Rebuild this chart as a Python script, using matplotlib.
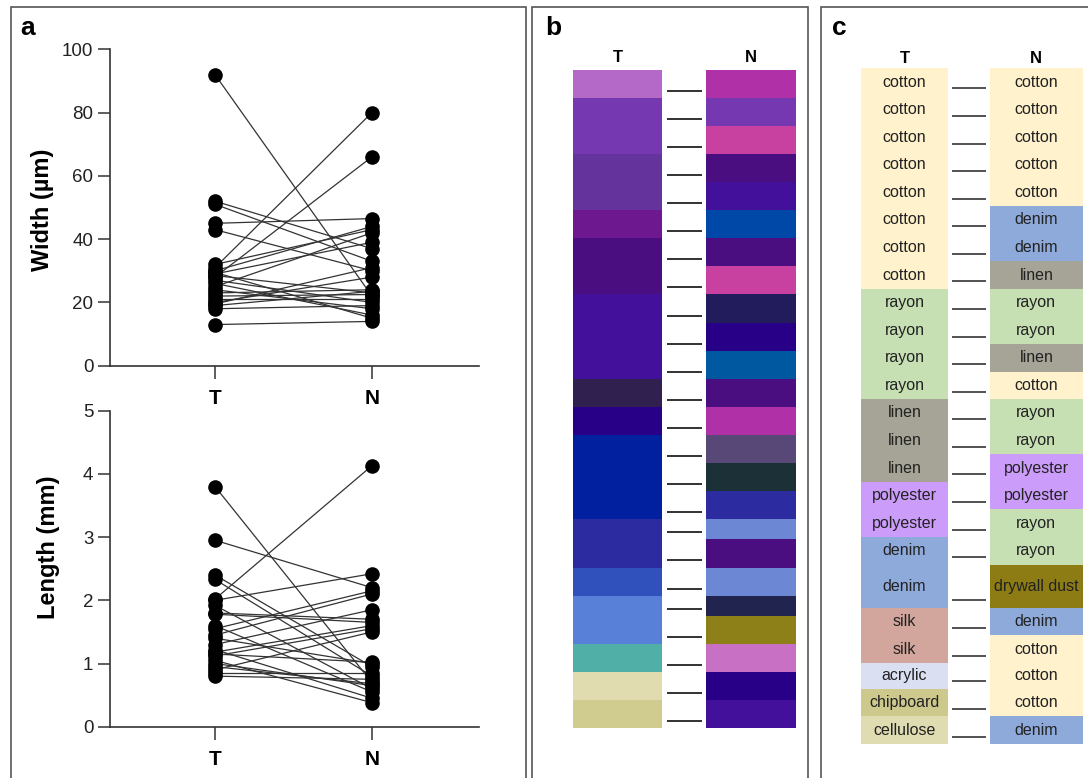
import numpy as np
import matplotlib
matplotlib.use("Agg")
import matplotlib.pyplot as plt
from matplotlib.patches import Rectangle

plt.rcParams['font.family'] = ['Liberation Sans', 'DejaVu Sans']

W, H = 1088, 778

# ---- panel a: paired fibre measurements (T vs N) ----
groups = ['T', 'N']
width_T = [92, 31, 28, 52, 51, 45, 43, 32, 30, 29, 28.5, 27, 26, 25, 24, 23, 22, 21, 20, 19.5, 19, 18, 13, 29.5]
width_N = [22, 80, 66, 37, 33, 46.5, 30, 43, 44, 39, 23, 20, 16, 42, 18, 24, 22.5, 21, 28, 31, 23.5, 19, 14, 15]
length_T = [3.8, 2.95, 2.02, 2.4, 2.33, 2.0, 1.92, 1.8, 1.78, 1.6, 1.55, 1.45, 1.4, 1.3, 1.22, 1.18, 1.12, 1.05, 1.0, 0.9, 0.85, 0.8, 1.15, 0.95]
length_N = [0.7, 2.2, 4.13, 0.95, 0.8, 2.42, 0.6, 1.7, 1.65, 0.55, 2.15, 2.1, 1.0, 1.85, 0.45, 1.6, 1.55, 0.38, 0.65, 1.5, 0.85, 0.75, 1.02, 0.68]

# ---- panel b: colour blocks ----
b_T_heights = [1, 2, 2, 1, 2, 3, 1, 1, 3, 1.73, 1, 1.73, 1, 1, 1]
b_T_colors = ['#b469c8', '#7638b0', '#64349c', '#6e1890', '#4a0e80', '#42109a', '#302050',
              '#280088', '#0020a0', '#2c2ca0', '#3050bc', '#5880d8', '#50b0a8', '#e0dcb0', '#d0cc90']
b_N_heights = [1] * 16 + [0.73, 1, 1, 0.73, 1, 1, 1, 1]
b_N_colors = ['#b030a8', '#7638b0', '#c840a0', '#4a0e80', '#42109a', '#0048a8', '#4a0e80', '#c840a0',
              '#221c5c', '#280088', '#0058a0', '#4a0e80', '#b030a8', '#584878', '#1c3038', '#2c2ca0',
              '#6c88d4', '#4a0e80', '#6c88d4', '#222450', '#8e8018', '#c870c4', '#280088', '#42109a']

# ---- panel c: material types ----
c_T = ['cotton'] * 8 + ['rayon'] * 4 + ['linen'] * 3 + ['polyester'] * 2 + ['denim'] * 2 + \
      ['silk'] * 2 + ['acrylic', 'chipboard', 'cellulose']
c_N = ['cotton'] * 5 + ['denim'] * 2 + ['linen', 'rayon', 'rayon', 'linen', 'cotton', 'rayon', 'rayon',
      'polyester', 'polyester', 'rayon', 'rayon', 'drywall dust', 'denim', 'cotton', 'cotton', 'cotton', 'denim']
c_row_heights = [1] * 18 + [1.57, 1, 1, 0.94, 1, 1]
material_colors = {
    'cotton': '#fff2cc', 'rayon': '#c6e0b4', 'linen': '#a6a496', 'polyester': '#cc9cfa',
    'denim': '#8eaadb', 'silk': '#d2a69c', 'acrylic': '#dae0f2', 'chipboard': '#cdc98c',
    'cellulose': '#dfdcb2', 'drywall dust': '#8d7c14',
}


def px_axes(fig, x0, y0, x1, y1):
    # axes placed by pixel box (y measured from top)
    return fig.add_axes([x0 / W, 1 - y1 / H, (x1 - x0) / W, (y1 - y0) / H])


def paired_plot(ax, t_vals, n_vals, ymax, step):
    t_vals = np.array(t_vals)
    n_vals = np.array(n_vals)
    for t, n in zip(t_vals, n_vals):
        ax.plot([0, 1], [t, n], color='#333333', lw=0.9, zorder=2)
    ax.scatter(np.zeros(len(t_vals)), t_vals, s=90, color='black', zorder=3, clip_on=False)
    ax.scatter(np.ones(len(n_vals)), n_vals, s=90, color='black', zorder=3, clip_on=False)
    ax.set_xlim(-0.669, 1.682)
    ax.set_ylim(0, ymax)
    ax.set_yticks(np.arange(0, ymax + step / 2, step))
    ax.set_xticks([0, 1])
    ax.set_xticklabels(groups, fontsize=15, fontweight='bold')
    for s in ['top', 'right']:
        ax.spines[s].set_visible(False)
    for s in ['left', 'bottom']:
        ax.spines[s].set_linewidth(1.2)
        ax.spines[s].set_color('#333333')
    ax.tick_params(axis='y', direction='out', length=9, width=1.1, labelsize=13.5, pad=3,
                   colors='#333333', labelcolor='#222222')
    ax.tick_params(axis='x', direction='out', length=9, width=1.1, pad=8,
                   colors='#333333', labelcolor='black')


fig = plt.figure(figsize=(W / 100, H / 100), dpi=100)

# panel borders (open at the bottom)
for x0, x1 in [(11, 526), (532, 808), (821, 1100)]:
    fig.add_artist(Rectangle((x0 / W, -0.05), (x1 - x0) / W, 1.05 - 7 / H, transform=fig.transFigure,
                             fill=False, edgecolor='#555555', lw=1.2, clip_on=False))

for x, letter in [(20, 'a'), (545, 'b'), (832, 'c')]:
    fig.text(x / W, 1 - 35 / H, letter, fontsize=19, fontweight='bold', ha='left', va='baseline')

# panel a
ax1 = px_axes(fig, 110, 49.3, 479, 365.7)
paired_plot(ax1, width_T, width_N, 100, 20)
fig.text(42 / W, 1 - 210 / H, 'Width (µm)', rotation=90, ha='center', va='center',
         fontsize=17, fontweight='bold')

ax2 = px_axes(fig, 110, 410.7, 479, 726.7)
paired_plot(ax2, length_T, length_N, 5, 1)
fig.text(48 / W, 1 - 547 / H, 'Length (mm)', rotation=90, ha='center', va='center',
         fontsize=17, fontweight='bold')

# panel b
axb = px_axes(fig, 573.3, 70, 795.7, 728.3)
tb_start = np.concatenate([[0], np.cumsum(b_T_heights)[:-1]])
nb_start = np.concatenate([[0], np.cumsum(b_N_heights)[:-1]])
axb.barh(tb_start, 0.4, height=b_T_heights, left=0, align='edge', color=b_T_colors, edgecolor='none')
axb.barh(nb_start, 0.405, height=b_N_heights, left=0.595, align='edge', color=b_N_colors, edgecolor='none')
axb.hlines(np.cumsum(b_N_heights) - 0.25, 0.4227, 0.577, color='#222222', lw=1.3)
axb.set_xlim(0, 1)
axb.set_ylim(sum(b_N_heights), 0)
axb.axis('off')
axb.text(0.2, -0.43, 'T', ha='center', va='center', fontsize=12, fontweight='bold')
axb.text(0.7975, -0.43, 'N', ha='center', va='center', fontsize=12, fontweight='bold')

# panel c
axc = px_axes(fig, 860.7, 68.3, 1082.7, 744)
c_start = np.concatenate([[0], np.cumsum(c_row_heights)[:-1]])
c_mid = c_start + np.array(c_row_heights) / 2
axc.barh(c_start, 0.3946, height=c_row_heights, left=0, align='edge',
         color=[material_colors[m] for m in c_T], edgecolor='none')
axc.barh(c_start, 0.4176, height=c_row_heights, left=0.5824, align='edge',
         color=[material_colors[m] for m in c_N], edgecolor='none')
for y, t, n in zip(c_mid, c_T, c_N):
    axc.text(0.1973, y, t, ha='center', va='center', fontsize=11.5, color='#222222')
    axc.text(0.7912, y, n, ha='center', va='center', fontsize=11.5, color='#222222')
axc.hlines(np.cumsum(c_row_heights) - 0.27, 0.4126, 0.5631, color='#222222', lw=1.1)
axc.set_xlim(0, 1)
axc.set_ylim(sum(c_row_heights), 0)
axc.axis('off')
axc.text(0.1973, -0.37, 'T', ha='center', va='center', fontsize=12, fontweight='bold')
axc.text(0.7912, -0.37, 'N', ha='center', va='center', fontsize=12, fontweight='bold')

fig.savefig('out.png', dpi=100)
